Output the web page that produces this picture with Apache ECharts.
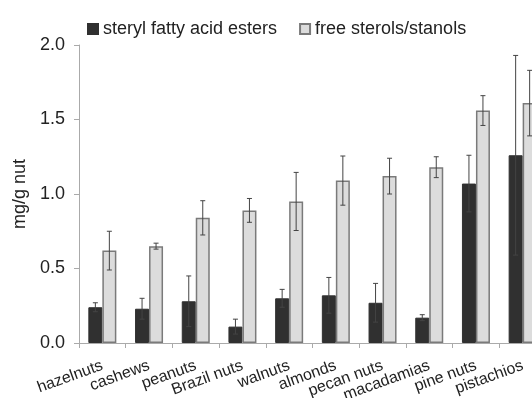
<!DOCTYPE html>
<html><head><meta charset="utf-8">
<script src="https://cdn.jsdelivr.net/npm/echarts@6/dist/echarts.min.js"></script>
<style>html,body{margin:0;padding:0;background:#fff}#c{width:532px;height:398px}</style>
</head><body><div id="c"></div>
<script>
const categories = ['hazelnuts','cashews','peanuts','Brazil nuts','walnuts','almonds','pecan nuts','macadamias','pine nuts','pistachios'];
const esters = [0.24,0.23,0.28,0.11,0.30,0.32,0.27,0.17,1.07,1.26];
const estersErr = [0.03,0.07,0.17,0.05,0.06,0.12,0.13,0.02,0.19,0.67];
const sterols = [0.62,0.65,0.84,0.89,0.95,1.09,1.12,1.18,1.56,1.61];
const sterolsErr = [0.13,0.02,0.115,0.08,0.195,0.165,0.12,0.07,0.10,0.22];
const seriesNames = ['steryl fatty acid esters','free sterols/stanols'];
const yTicks = [0, 0.5, 1.0, 1.5, 2.0];

const FONT = 'Liberation Sans';
function errData(vals, errs){ return vals.map((v,i)=>[i, v, errs[i]]); }
function errSeries(vals, errs, off){
  return {
    type:'custom', silent:true, z:5,
    data: errData(vals, errs),
    encode:{x:0,y:1},
    renderItem:function(params, api){
      const x = api.value(0), v = api.value(1), e = api.value(2);
      const hi = api.coord([x, v+e]);
      const lo = api.coord([x, v-e]);
      const cx = hi[0] + off;
      const st = {stroke:'#444', lineWidth:1};
      return {type:'group', children:[
        {type:'line', shape:{x1:cx,y1:hi[1],x2:cx,y2:lo[1]}, style:st},
        {type:'line', shape:{x1:cx-2.5,y1:hi[1],x2:cx+2.5,y2:hi[1]}, style:st},
        {type:'line', shape:{x1:cx-2.5,y1:lo[1],x2:cx+2.5,y2:lo[1]}, style:st}
      ]};
    }
  };
}
const chart = echarts.init(document.getElementById('c'));
chart.setOption({
  animation:false,
  textStyle:{fontFamily:FONT},
  legend:{
    top:15, left:82, itemWidth:10, itemHeight:10, itemGap:22,
    textStyle:{fontFamily:FONT, fontSize:18, color:'#222'},
    data:[{name:seriesNames[0], icon:'rect'},{name:seriesNames[1], icon:'rect'}]
  },
  grid:{left:79, top:45, width:467, height:298, containLabel:false, outerBoundsMode:'none'},
  xAxis:{
    type:'category', data:categories,
    axisLine:{lineStyle:{color:'#aaa'}},
    axisTick:{show:true, length:5, lineStyle:{color:'#aaa'}},
    axisLabel:{rotate:20, fontSize:16, color:'#222', margin:22, interval:0, fontFamily:FONT}
  },
  yAxis:{
    type:'value', min:0, max:2, interval:0.5,
    name:'mg/g nut', nameLocation:'middle', nameGap:46, nameRotate:90,
    nameTextStyle:{fontSize:18, color:'#222', fontFamily:FONT},
    axisLine:{show:true, lineStyle:{color:'#aaa'}},
    axisTick:{show:true, length:5, lineStyle:{color:'#aaa'}},
    splitLine:{show:false},
    axisLabel:{fontSize:18, color:'#222', margin:14, fontFamily:FONT, formatter:v=>v.toFixed(1)}
  },
  series:[
    {name:seriesNames[0], type:'bar', data:esters, barWidth:14, barGap:'0%',
     itemStyle:{color:'#303030', borderColor:'#303030', borderWidth:1}},
    {name:seriesNames[1], type:'bar', data:sterols, barWidth:14, barGap:'0%',
     itemStyle:{color:'#dcdcdc', borderColor:'#7a7a7a', borderWidth:1.5}},
    errSeries(esters, estersErr, -7),
    errSeries(sterols, sterolsErr, 7)
  ]
});
</script></body></html>
